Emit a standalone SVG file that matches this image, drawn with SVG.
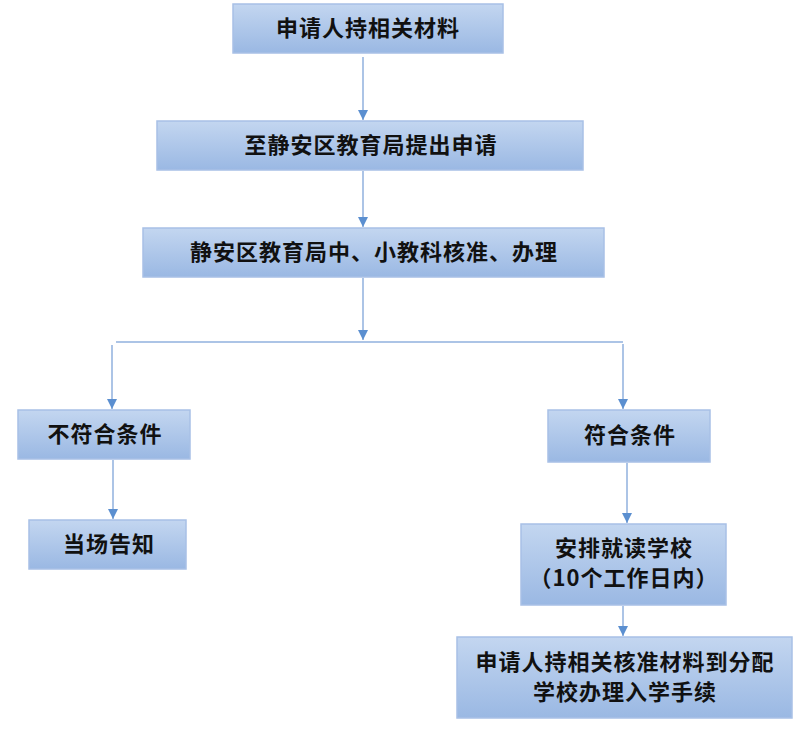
<svg xmlns="http://www.w3.org/2000/svg" width="800" height="738" viewBox="0 0 800 738">
<defs>
<linearGradient id="g" x1="0" y1="0" x2="0" y2="1">
<stop offset="0" stop-color="#c3d6f0"/>
<stop offset="1" stop-color="#9ab8e3"/>
</linearGradient>
<marker id="ah" viewBox="0 0 10 10" refX="10" refY="5" markerWidth="10" markerHeight="10" markerUnits="userSpaceOnUse" orient="auto">
<path d="M0,0 L10,5 L0,10 z" fill="#5b8fd0"/>
</marker>
</defs>
<style>
.box{fill:url(#g);stroke:#a8c0e6;stroke-width:1.5}
.t{font-family:"Noto Sans CJK SC","Noto Sans",sans-serif;font-size:22px;letter-spacing:1px;font-weight:bold;fill:#111;text-anchor:middle;dominant-baseline:central}
.c{stroke:#90b1de;stroke-width:1.5;fill:none}
.a{marker-end:url(#ah)}
</style>
<rect width="800" height="738" fill="#fff"/>
<g id="connectors">
<line class="c a" x1="363" y1="57" x2="363" y2="120"/>
<line class="c a" x1="363" y1="171" x2="363" y2="227"/>
<line class="c a" x1="363" y1="278" x2="363" y2="340"/>
<line class="c" x1="116" y1="342" x2="623" y2="342"/>
<line class="c a" x1="112" y1="345" x2="112" y2="409"/>
<line class="c a" x1="623" y1="344" x2="623" y2="409"/>
<line class="c a" x1="113" y1="460" x2="113" y2="519"/>
<line class="c a" x1="627" y1="463" x2="627" y2="523"/>
<line class="c a" x1="623" y1="606" x2="623" y2="636"/>
</g>
<g id="n1"><rect class="box" x="233" y="4" width="270" height="49"/><text class="t" x="368" y="26">申请人持相关材料</text></g>
<g id="n2"><rect class="box" x="157" y="121" width="426" height="49"/><text class="t" x="371" y="143">至静安区教育局提出申请</text></g>
<g id="n3"><rect class="box" x="143" y="228" width="461" height="49"/><text class="t" x="374" y="250">静安区教育局中、小教科核准、办理</text></g>
<g id="n4"><rect class="box" x="18" y="410" width="172" height="49"/><text class="t" x="105" y="432">不符合条件</text></g>
<g id="n5"><rect class="box" x="29" y="520" width="157" height="49"/><text class="t" x="109" y="542">当场告知</text></g>
<g id="n6"><rect class="box" x="548" y="410" width="162" height="52"/><text class="t" x="630" y="433">符合条件</text></g>
<g id="n7"><rect class="box" x="521" y="524" width="205" height="81"/><text class="t" x="624" y="546">安排就读学校</text><text class="t" x="624" y="576">（10个工作日内）</text></g>
<g id="n8"><rect class="box" x="457" y="637" width="335" height="81"/><text class="t" x="625" y="660">申请人持相关核准材料到分配</text><text class="t" x="625" y="690">学校办理入学手续</text></g>
</svg>
